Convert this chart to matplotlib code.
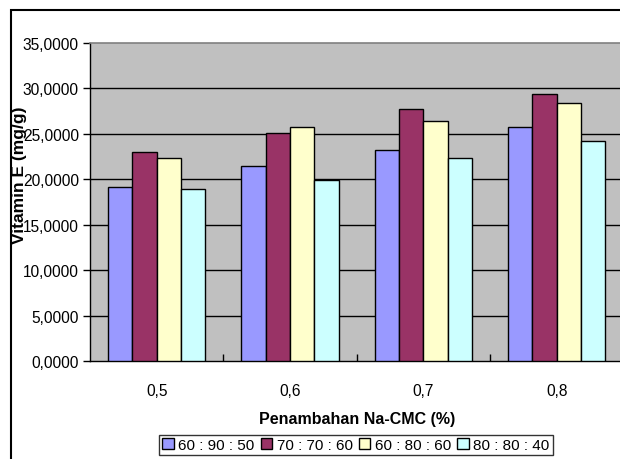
import matplotlib
matplotlib.use("Agg")
import matplotlib.pyplot as plt
from matplotlib.patches import Rectangle
import numpy as np

plt.rcParams["font.family"] = ["Liberation Sans Narrow", "Liberation Sans", "DejaVu Sans"]

# Na-CMC addition levels and vitamin E content per formula ratio
categories = ["0,5", "0,6", "0,7", "0,8"]
series_names = ["60 : 90 : 50", "70 : 70 : 60", "60 : 80 : 60", "80 : 80 : 40"]
s1 = [19.12, 21.50, 23.22, 25.75]
s2 = [23.04, 25.05, 27.77, 29.42]
s3 = [22.34, 25.70, 26.41, 28.40]
s4 = [18.96, 19.95, 22.34, 24.18]
colors = ["#9999FF", "#993366", "#FFFFCC", "#CCFFFF"]
yticks = [0, 5, 10, 15, 20, 25, 30, 35]

fig = plt.figure(figsize=(6.2, 4.6), dpi=100)
ax = fig.add_axes([90/620, 98/460, 533.3/620, 318/460])
ax.set_facecolor("#C0C0C0")

x = np.arange(len(categories))
w = 0.1825
for i, (vals, name, c) in enumerate(zip([s1, s2, s3, s4], series_names, colors)):
    ax.bar(x + (i - 1.5) * w, vals, width=w, color=c, edgecolor="black",
           linewidth=1, label=name, zorder=3)

ax.set_xlim(-0.5, 3.5)
ax.set_ylim(0, 35)
ax.set_yticks(yticks)
ax.set_yticklabels([f"{v:.4f}".replace(".", ",") for v in yticks], fontsize=11.2)
for v in yticks[1:-1]:
    ax.axhline(v, color="black", lw=1, zorder=1)

ax.set_xticks(x)
ax.set_xticklabels(categories, fontsize=11.2)
ax.set_xticks(np.arange(0.5, 3.5, 1), minor=True)
ax.tick_params(axis="x", which="major", length=0, pad=16)
ax.tick_params(axis="x", which="minor", direction="in", length=5, width=1)
ax.tick_params(axis="y", direction="out", length=5, width=1, pad=3)

ax.spines["right"].set_visible(False)
ax.spines["top"].set_color("#808080")
ax.spines["top"].set_linewidth(1.2)
ax.spines["left"].set_linewidth(1)
ax.spines["bottom"].set_linewidth(1)

ax.set_xlabel("Penambahan Na-CMC (%)", fontsize=11.5, fontweight="bold", labelpad=9)
fig.text(20/620, 1 - 175/460, "Vitamin E (mg/g)", rotation=90, ha="center",
         va="center", fontsize=12.5, fontweight="bold")

leg = fig.legend(loc="upper center", bbox_to_anchor=(356/620, 1 - 436/460), ncol=4,
                 fontsize=11, frameon=True, fancybox=False, edgecolor="black",
                 handlelength=0.75, handleheight=0.75, handletextpad=0.3,
                 columnspacing=0.4, borderpad=0.2, borderaxespad=0)
leg.get_frame().set_linewidth(1)

# chart frame
fig.add_artist(Rectangle((11/620, -0.2), 1.2, 1 - 11/460 + 0.2,
                         transform=fig.transFigure, fill=False,
                         edgecolor="black", lw=1.5))

fig.savefig("out.png", dpi=100)
